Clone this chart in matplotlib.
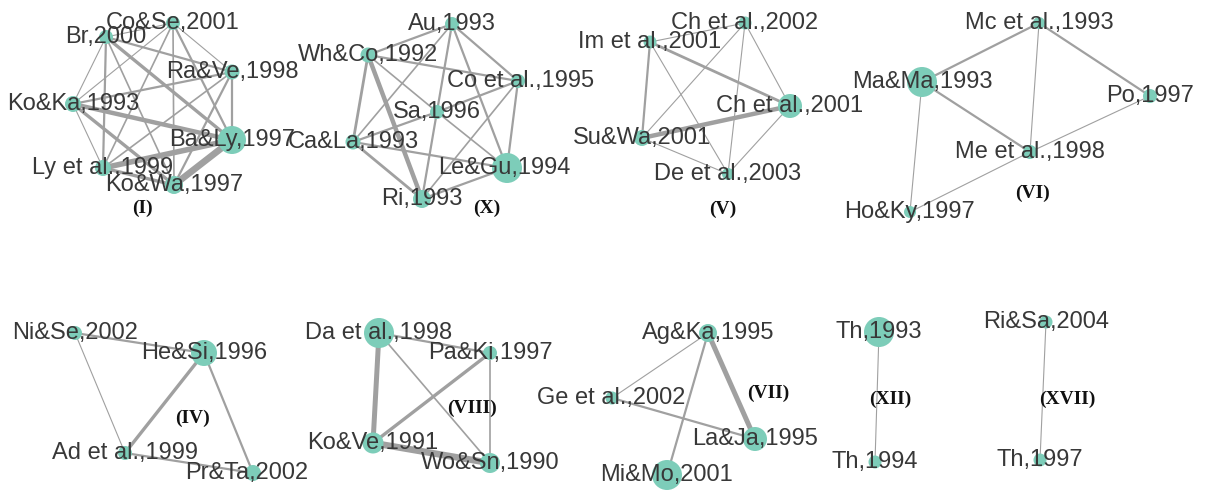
import matplotlib
matplotlib.use("Agg")
import matplotlib.pyplot as plt

# node name, x, y (pixel layout of the reference), node weight (radius)
names = [
    # (I)
    "Co&Se,2001", "Br,2000", "Ra&Ve,1998", "Ko&Ka,1993", "Ba&Ly,1997", "Ly et al.,1999", "Ko&Wa,1997",
    # (X)
    "Au,1993", "Wh&Co,1992", "Co et al.,1995", "Sa,1996", "Ca&La,1993", "Le&Gu,1994", "Ri,1993",
    # (V)
    "Ch et al.,2002", "Im et al.,2001", "Ch et al.,2001", "Su&Wa,2001", "De et al.,2003",
    # (VI)
    "Mc et al.,1993", "Ma&Ma,1993", "Po,1997", "Me et al.,1998", "Ho&Ky,1997",
    # (IV)
    "Ni&Se,2002", "He&Si,1996", "Ad et al.,1999", "Pr&Ta,2002",
    # (VIII)
    "Da et al.,1998", "Pa&Ki,1997", "Ko&Ve,1991", "Wo&Sn,1990",
    # (VII)
    "Ag&Ka,1995", "Ge et al.,2002", "La&Ja,1995", "Mi&Mo,2001",
    # (XII), (XVII)
    "Th,1993", "Th,1994", "Ri&Sa,2004", "Th,1997",
]
node_x = [173, 106, 232, 73, 232, 103, 174,
          452, 368, 518, 437, 353, 507, 422,
          745, 650, 790, 642, 728,
          1039, 922, 1150, 1030, 910,
          75, 204, 125, 253,
          379, 490, 373, 490,
          708, 612, 755, 667,
          879, 875, 1046, 1040]
node_y = [23, 37, 72, 104, 140, 168, 185,
          24, 55, 81, 112, 142, 168, 199,
          23, 42, 106, 138, 174,
          23, 82, 96, 152, 212,
          333, 353, 453, 473,
          333, 353, 443, 463,
          333, 398, 439, 475,
          332, 462, 322, 460]
node_w = [7, 7, 7.5, 8, 14, 8, 9,
          7, 7.5, 7, 7, 7.5, 15, 9,
          6.5, 6.5, 12, 8, 6,
          6, 15, 7, 7, 6,
          7, 13, 7, 8,
          15, 7, 10.5, 10,
          9, 6.5, 12, 15,
          15, 6.5, 6.5, 6.5]
label_dx = {"Pr&Ta,2002": -6, "Co et al.,1995": 3, "Le&Gu,1994": -3, "Ge et al.,2002": -1}

# edges: (source, target, weight)
edges = [
    ("Co&Se,2001", "Br,2000", 1), ("Co&Se,2001", "Ra&Ve,1998", 1), ("Co&Se,2001", "Ko&Ka,1993", 1),
    ("Co&Se,2001", "Ba&Ly,1997", 2), ("Co&Se,2001", "Ly et al.,1999", 1.5), ("Co&Se,2001", "Ko&Wa,1997", 1.5),
    ("Br,2000", "Ra&Ve,1998", 2), ("Br,2000", "Ko&Ka,1993", 1), ("Br,2000", "Ba&Ly,1997", 3),
    ("Br,2000", "Ly et al.,1999", 2), ("Br,2000", "Ko&Wa,1997", 1.5),
    ("Ko&Ka,1993", "Ra&Ve,1998", 2), ("Ko&Ka,1993", "Ba&Ly,1997", 4), ("Ko&Ka,1993", "Ly et al.,1999", 1),
    ("Ko&Ka,1993", "Ko&Wa,1997", 3),
    ("Ra&Ve,1998", "Ba&Ly,1997", 2), ("Ra&Ve,1998", "Ly et al.,1999", 1.5), ("Ra&Ve,1998", "Ko&Wa,1997", 2),
    ("Ba&Ly,1997", "Ly et al.,1999", 5), ("Ba&Ly,1997", "Ko&Wa,1997", 6), ("Ly et al.,1999", "Ko&Wa,1997", 3),

    ("Au,1993", "Wh&Co,1992", 2), ("Au,1993", "Co et al.,1995", 2), ("Au,1993", "Ca&La,1993", 1.5),
    ("Au,1993", "Ri,1993", 2), ("Au,1993", "Le&Gu,1994", 2),
    ("Wh&Co,1992", "Co et al.,1995", 2), ("Wh&Co,1992", "Sa,1996", 1.5), ("Wh&Co,1992", "Ca&La,1993", 2.5),
    ("Wh&Co,1992", "Ri,1993", 4),
    ("Co et al.,1995", "Sa,1996", 2), ("Co et al.,1995", "Le&Gu,1994", 2), ("Co et al.,1995", "Ri,1993", 1.5),
    ("Sa,1996", "Ca&La,1993", 2), ("Sa,1996", "Le&Gu,1994", 1.5),
    ("Ca&La,1993", "Le&Gu,1994", 2), ("Ca&La,1993", "Ri,1993", 2.5), ("Ri,1993", "Le&Gu,1994", 2),

    ("Im et al.,2001", "Ch et al.,2002", 1), ("Im et al.,2001", "Ch et al.,2001", 2.5),
    ("Im et al.,2001", "Su&Wa,2001", 2), ("Im et al.,2001", "De et al.,2003", 1),
    ("Ch et al.,2002", "Su&Wa,2001", 1), ("Ch et al.,2002", "De et al.,2003", 1),
    ("Ch et al.,2002", "Ch et al.,2001", 1), ("Su&Wa,2001", "Ch et al.,2001", 4),
    ("Su&Wa,2001", "De et al.,2003", 1), ("Ch et al.,2001", "De et al.,2003", 1),

    ("Ma&Ma,1993", "Mc et al.,1993", 2), ("Mc et al.,1993", "Po,1997", 2), ("Mc et al.,1993", "Me et al.,1998", 1),
    ("Ma&Ma,1993", "Me et al.,1998", 2), ("Ma&Ma,1993", "Ho&Ky,1997", 1),
    ("Ho&Ky,1997", "Me et al.,1998", 1), ("Me et al.,1998", "Po,1997", 1),

    ("Ni&Se,2002", "He&Si,1996", 2), ("Ni&Se,2002", "Ad et al.,1999", 1), ("He&Si,1996", "Ad et al.,1999", 3),
    ("He&Si,1996", "Pr&Ta,2002", 2), ("Ad et al.,1999", "Pr&Ta,2002", 2),

    ("Da et al.,1998", "Pa&Ki,1997", 2), ("Da et al.,1998", "Ko&Ve,1991", 4.5), ("Da et al.,1998", "Wo&Sn,1990", 1.5),
    ("Pa&Ki,1997", "Ko&Ve,1991", 3), ("Pa&Ki,1997", "Wo&Sn,1990", 1.5), ("Ko&Ve,1991", "Wo&Sn,1990", 6),

    ("Ag&Ka,1995", "Ge et al.,2002", 1), ("Ag&Ka,1995", "La&Ja,1995", 4.5), ("Ag&Ka,1995", "Mi&Mo,2001", 2),
    ("Ge et al.,2002", "La&Ja,1995", 2),

    ("Th,1993", "Th,1994", 1), ("Ri&Sa,2004", "Th,1997", 1),
]

groups = ["(I)", "(X)", "(V)", "(VI)", "(IV)", "(VIII)", "(VII)", "(XII)", "(XVII)"]
group_x = [142, 487, 723, 1033, 193, 472, 768, 890, 1067]
group_y = [208, 208, 209, 193, 418, 408, 393, 399, 399]

W, H = 1205, 491
fig = plt.figure(figsize=(W / 100, H / 100), dpi=100)
ax = fig.add_axes([0, 0, 1, 1])
ax.set_xlim(0, W)
ax.set_ylim(H, 0)
ax.axis("off")

idx = {n: i for i, n in enumerate(names)}
for a, b, w in edges:
    i, j = idx[a], idx[b]
    ax.plot([node_x[i], node_x[j]], [node_y[i], node_y[j]], color="#a0a0a0",
            lw=w * 0.8, solid_capstyle="butt", zorder=1)

sizes = [(2 * r * 0.72) ** 2 for r in node_w]
ax.scatter(node_x, node_y, s=sizes, color="#7dcdb9", edgecolors="none", zorder=2)

for n, x, y in zip(names, node_x, node_y):
    ax.text(x + label_dx.get(n, 0), y, n, ha="center", va="center", fontsize=17,
            family="Liberation Sans", color="#383838", zorder=3)

for g, x, y in zip(groups, group_x, group_y):
    ax.text(x, y, g, ha="center", va="center", fontsize=14, fontweight="bold",
            family="Liberation Serif", color="#111111", zorder=3)

fig.savefig("out.png", dpi=100)
